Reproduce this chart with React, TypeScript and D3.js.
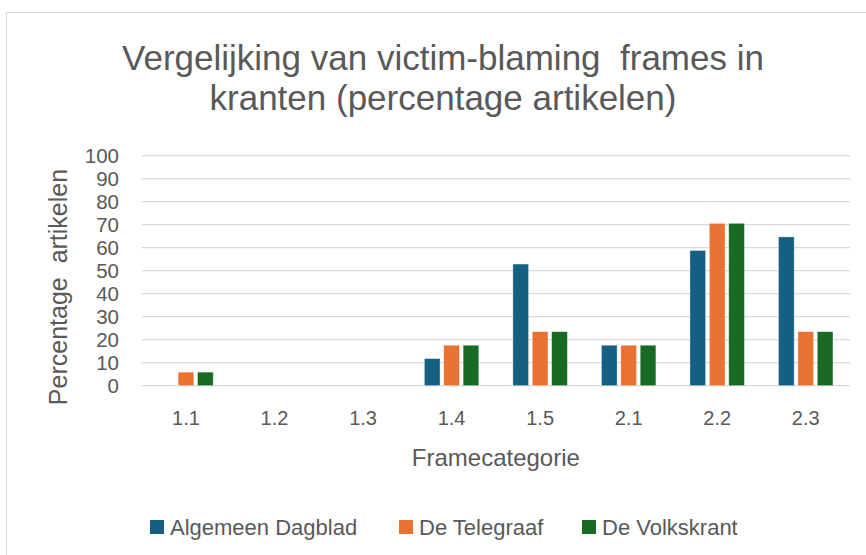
import React from "react";
import * as d3 from "d3";

const categories = ["1.1", "1.2", "1.3", "1.4", "1.5", "2.1", "2.2", "2.3"];
const seriesNames = ["Algemeen Dagblad", "De Telegraaf", "De Volkskrant"];
const algemeenDagblad = [0, 0, 0, 11.8, 52.9, 17.6, 58.8, 64.7];
const deTelegraaf = [5.9, 0, 0, 17.6, 23.5, 17.6, 70.6, 23.5];
const deVolkskrant = [5.9, 0, 0, 17.6, 23.5, 17.6, 70.6, 23.5];
const yTicks = [0, 10, 20, 30, 40, 50, 60, 70, 80, 90, 100];
const colors = ["#156082", "#E97132", "#196B24"];
const titleLines = ["Vergelijking van victim-blaming  frames in", "kranten (percentage artikelen)"];

const W = 866;
const H = 555;
const FONT = "'Liberation Sans', Arial, sans-serif";
const TXT = "#595959";

export default function App() {
  const values = [algemeenDagblad, deTelegraaf, deVolkskrant];
  const plotL = 141.7;
  const plotR = 850;
  const y = d3.scaleLinear().domain([0, 100]).range([385.7, 155.7]);
  const x0 = d3.scaleBand<string>().domain(categories).range([plotL, plotR]).paddingInner(0).paddingOuter(0);
  const groupW = 54.5;
  const x1 = d3.scaleBand<string>().domain(seriesNames).range([0, groupW]).paddingInner(0.19).paddingOuter(0);

  const legendX = [150, 399, 582];

  return (
    <svg width={W} height={H} style={{ position: "absolute", left: 0, top: 0 }} fontFamily={FONT}>
      <rect x={0} y={0} width={W} height={H} fill="#fff" />
      <rect x={6.5} y={12.5} width={W + 20} height={H + 20} fill="#fff" stroke="#d9d9d9" strokeWidth={1} />
      {titleLines.map((t, i) => (
        <text key={i} x={443} y={70 + i * 40} textAnchor="middle" fontSize={35} fill={TXT} xmlSpace="preserve" style={{ whiteSpace: "pre" }}>
          {t}
        </text>
      ))}
      {yTicks.map((t) => (
        <g key={t}>
          <line x1={plotL} x2={plotR} y1={y(t)} y2={y(t)} stroke="#d9d9d9" strokeWidth={1.2} />
          <text x={119} y={y(t)} dy="0.36em" textAnchor="end" fontSize={20.5} fill={TXT}>
            {t}
          </text>
        </g>
      ))}
      {categories.map((c, ci) => {
        const cx = (x0(c) as number) + x0.bandwidth() / 2;
        return (
          <g key={c}>
            {seriesNames.map((s, si) => {
              const v = values[si][ci];
              if (!v) return null;
              const bx = cx - groupW / 2 + (x1(s) as number);
              return (
                <rect
                  key={s}
                  x={bx}
                  y={y(v)}
                  width={x1.bandwidth()}
                  height={y(0) - y(v)}
                  fill={colors[si]}
                  stroke="#ffffff"
                  strokeOpacity={0.5}
                  strokeWidth={0.75}
                />
              );
            })}
            <text x={cx} y={425} textAnchor="middle" fontSize={20} fill={TXT}>
              {c}
            </text>
          </g>
        );
      })}
      <text x={(plotL + plotR) / 2} y={466} textAnchor="middle" fontSize={24} fill={TXT}>
        Framecategorie
      </text>
      <text transform={`translate(67,287) rotate(-90)`} textAnchor="middle" fontSize={25} fill={TXT} xmlSpace="preserve" style={{ whiteSpace: "pre" }}>
        {"Percentage  artikelen"}
      </text>
      {seriesNames.map((s, i) => (
        <g key={s}>
          <rect x={legendX[i]} y={520} width={14} height={14} fill={colors[i]} />
          <text x={legendX[i] + 20} y={535} fontSize={22} fill={TXT}>
            {s}
          </text>
        </g>
      ))}
    </svg>
  );
}
